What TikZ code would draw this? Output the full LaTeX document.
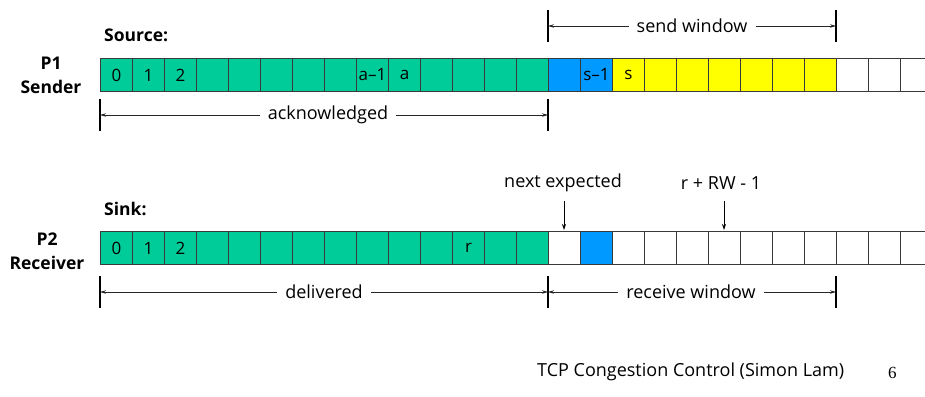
\documentclass[tikz,border=0pt]{standalone}
\usepackage{fontspec}
\setmainfont{Open Sans}
\newfontfamily\pagefont{Liberation Serif}
\usetikzlibrary{arrows.meta}
\definecolor{ackgreen}{HTML}{00CC99}
\definecolor{sentblue}{HTML}{0099FF}
\definecolor{winyellow}{HTML}{FFFF00}
\definecolor{gridline}{HTML}{3A3A3A}

\begin{document}
\begin{tikzpicture}[x=1pt,y=-1pt,
  cell/.style={draw=gridline, line width=1pt, minimum width=32pt, minimum height=33pt,
    inner sep=0pt, anchor=north west},
  celltext/.style={font=\fontsize{17}{17}\selectfont},
  lbl/.style={inner sep=2pt, font=\fontsize{18}{18}\selectfont},
  head/.style={inner sep=0pt, font=\bfseries\fontsize{17.5}{24}\selectfont, align=center},
  span/.style={line width=0.7pt, draw=black!85, -{Stealth[length=6pt,width=3.5pt]}},
  bar/.style={line width=2pt, black},
  pointer/.style={line width=0.8pt, -{Stealth[length=6pt,width=4pt]}}]
\useasboundingbox (0,0) rectangle (925,396);
\clip (0,0) rectangle (925,396);

% ---- sender buffer ----
\foreach \i in {0,...,13} \node[cell, fill=ackgreen] (s\i) at ({100+32*\i},58) {};
\foreach \i in {14,15}    \node[cell, fill=sentblue] (s\i) at ({100+32*\i},58) {};
\foreach \i in {16,...,22} \node[cell, fill=winyellow] (s\i) at ({100+32*\i},58) {};
\foreach \i in {23,...,25} \node[cell, fill=white] (s\i) at ({100+32*\i},58) {};
\foreach \i/\t in {0/0,1/1,2/2,8/a--1,9/a,15/s--1,16/s}
  \node[celltext] at (s\i.center) {\t};

% ---- receiver buffer ----
\foreach \i in {0,...,13} \node[cell, fill=ackgreen] (r\i) at ({100+32*\i},231) {};
\node[cell, fill=white] (r14) at (548,231) {};
\node[cell, fill=sentblue] (r15) at (580,231) {};
\foreach \i in {16,...,25} \node[cell, fill=white] (r\i) at ({100+32*\i},231) {};
\foreach \i/\t in {0/0,1/1,2/2,11/r}
  \node[celltext] at (r\i.center) {\t};

% ---- row headings ----
\node[head, anchor=west] (src) at (104,35) {Source:};
\node[head] (p1) at (51,75) {P1\\Sender};
\node[head, anchor=west] (snk) at (104,209) {Sink:};
\node[head] (p2) at (47,251) {P2\\Receiver};

% ---- extent markers ----
\draw[bar] (100,99) -- (100,131);
\draw[bar] (548,99) -- (548,131);
\draw[bar] (548,10) -- (548,42);
\draw[bar] (836,10) -- (836,42);
\draw[bar] (100,276) -- (100,308);
\draw[bar] (548,276) -- (548,308);
\draw[bar] (836,276) -- (836,308);

\coordinate (ackL) at (100,115);  \coordinate (ackR) at (548,115);
\coordinate (swL) at (548,26);    \coordinate (swR) at (836,26);
\coordinate (dlL) at (100,292);   \coordinate (dlR) at (548,292);
\coordinate (rwL) at (548,292);   \coordinate (rwR) at (836,292);

\node[lbl, inner xsep=8pt] (ack) at (328,115) {acknowledged};
\draw[span] (ack.west) -- (ackL);
\draw[span] (ack.east) -- (ackR);

\node[lbl, inner xsep=8pt] (sw) at (692,26) {send window};
\draw[span] (sw.west) -- (swL);
\draw[span] (sw.east) -- (swR);

\node[lbl, inner xsep=8pt] (dl) at (324,292) {delivered};
\draw[span] (dl.west) -- (dlL);
\draw[span] (dl.east) -- (dlR);

\node[lbl, inner xsep=8pt] (rw) at (691,292) {receive window};
\draw[span] (rw.west) -- (rwL);
\draw[span] (rw.east) -- (rwR);

% ---- receiver pointers ----
\node[lbl] (nx) at (563,183) {next expected};
\node[lbl] (rr) at (721,183) {r + RW - 1};
\coordinate (nxT) at (564,201); \coordinate (nxB) at (564,230);
\coordinate (rrT) at (724,201); \coordinate (rrB) at (724,230);
\draw[pointer] (nxT) -- (nxB);
\draw[pointer] (rrT) -- (rrB);

% ---- footer ----
\node[lbl, anchor=west, inner sep=0pt] (ft) at (537,372) {TCP Congestion Control (Simon Lam)};
\node[anchor=west, inner sep=0pt, font=\pagefont\fontsize{17}{17}\selectfont] (pg) at (888,373) {6};
\end{tikzpicture}
\end{document}
